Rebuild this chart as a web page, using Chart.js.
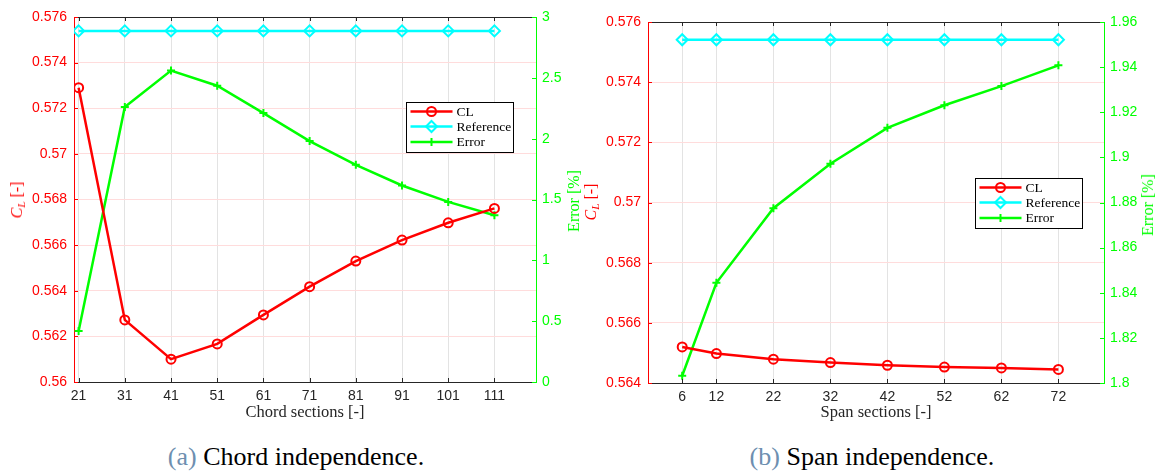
<!DOCTYPE html>
<html>
<head>
<meta charset="utf-8">
<script src="https://cdn.jsdelivr.net/npm/chart.js"></script>
<style>
  html, body { margin:0; padding:0; background:#fff; }
  body { width:1157px; height:473px; position:relative; overflow:hidden; }
  .chart { position:absolute; top:0; height:420px; }
  .lbl { position:absolute; font-family:'Liberation Serif', 'DejaVu Serif', serif; white-space:nowrap; transform:translate(-50%,-50%); line-height:1; }
  .rot { transform:translate(-50%,-50%) rotate(-90deg); }
  .cap { position:absolute; font-family:'Liberation Serif', 'DejaVu Serif', serif; font-size:26px; color:#000; white-space:nowrap; transform:translate(-50%,-50%); line-height:1; }
  .cap .n { color:#6e8fb0; }
  sub { font-size:70%; vertical-align:-0.25em; }
</style>
</head>
<body>
<div class="chart" style="left:0;width:578px;"><canvas id="c1"></canvas></div>
<div class="chart" style="left:578px;width:579px;"><canvas id="c2"></canvas></div>

<div class="lbl rot" style="left:18px;top:200px;font-size:16px;color:#ff0000;"><i>C</i><sub><i>L</i></sub> [-]</div>
<div class="lbl rot" style="left:574px;top:201px;font-size:16px;color:#00ff00;">Error [%]</div>
<div class="lbl" style="left:305px;top:412px;font-size:16.5px;color:#262626;">Chord sections [-]</div>

<div class="lbl rot" style="left:592px;top:202px;font-size:16px;color:#ff0000;"><i>C</i><sub><i>L</i></sub> [-]</div>
<div class="lbl rot" style="left:1148px;top:205px;font-size:16px;color:#00ff00;">Error [%]</div>
<div class="lbl" style="left:876px;top:412px;font-size:16.5px;color:#262626;">Span sections [-]</div>

<div class="cap" style="left:296px;top:457px;"><span class="n">(a)</span> Chord independence.</div>
<div class="cap" style="left:872px;top:457px;"><span class="n">(b)</span> Span independence.</div>

<script>
// ---- data ----
const chordSections = [21, 31, 41, 51, 61, 71, 81, 91, 101, 111];
const chordCL       = [0.5729, 0.56272, 0.5610, 0.56167, 0.56294, 0.56418, 0.5653, 0.56622, 0.56698, 0.56761];
const chordRef      = [0.57539, 0.57539, 0.57539, 0.57539, 0.57539, 0.57539, 0.57539, 0.57539, 0.57539, 0.57539];
const chordError    = [0.42, 2.26, 2.56, 2.435, 2.21, 1.98, 1.785, 1.615, 1.48, 1.37];

const spanSections = [6, 12, 22, 32, 42, 52, 62, 72];
const spanCL       = [0.5652, 0.56498, 0.56479, 0.56468, 0.56459, 0.56453, 0.5645, 0.56445];
const spanRef      = [0.57541, 0.57541, 0.57541, 0.57541, 0.57541, 0.57541, 0.57541, 0.57541];
const spanError    = [1.8032, 1.8444, 1.8775, 1.8972, 1.9131, 1.9231, 1.9316, 1.9408];

const seriesNames = ['CL', 'Reference', 'Error'];

// ---- helpers ----
const RED = '#ff0000', CYAN = '#00ffff', GREEN = '#00ff00', AX = '#262626';
const pts = (xs, ys) => xs.map((x, i) => ({x: x, y: ys[i]}));
const fmt = v => String(parseFloat(Number(v).toFixed(6)));
const SANS = "'Liberation Sans', Arial, sans-serif";

function drawMarker(ctx, style, x, y, color) {
  ctx.save();
  ctx.strokeStyle = color; ctx.lineWidth = 2;
  ctx.beginPath();
  if (style === 'circle') { ctx.arc(x, y, 4.5, 0, Math.PI * 2); }
  else if (style === 'rectRot') { const r = 5.5; ctx.moveTo(x, y - r); ctx.lineTo(x + r, y); ctx.lineTo(x, y + r); ctx.lineTo(x - r, y); ctx.closePath(); }
  else { ctx.moveTo(x, y - 4); ctx.lineTo(x, y + 4); ctx.moveTo(x - 4, y); ctx.lineTo(x + 4, y); }
  ctx.stroke();
  ctx.restore();
}

const framePlugin = {
  id: 'frame',
  afterDraw(chart, args, opts) {
    const {ctx, chartArea: a, scales} = chart;
    ctx.save();
    ctx.lineWidth = 1;
    ctx.strokeStyle = AX;
    ctx.beginPath(); ctx.moveTo(a.left, a.top + 0.5); ctx.lineTo(a.right, a.top + 0.5); ctx.stroke();
    scales.x.ticks.forEach(t => {
      const px = Math.round(scales.x.getPixelForValue(t.value)) + 0.5;
      ctx.beginPath();
      ctx.moveTo(px, a.bottom); ctx.lineTo(px, a.bottom - 4);
      ctx.moveTo(px, a.top); ctx.lineTo(px, a.top + 4);
      ctx.stroke();
    });
    ctx.strokeStyle = RED;
    scales.y.ticks.forEach(t => {
      const py = Math.round(scales.y.getPixelForValue(t.value)) + 0.5;
      ctx.beginPath(); ctx.moveTo(a.left, py); ctx.lineTo(a.left + 4, py); ctx.stroke();
    });
    ctx.strokeStyle = GREEN;
    scales.y2.ticks.forEach(t => {
      const py = Math.round(scales.y2.getPixelForValue(t.value)) + 0.5;
      ctx.beginPath(); ctx.moveTo(a.right, py); ctx.lineTo(a.right - 4, py); ctx.stroke();
    });
    // legend
    const bx = a.left + opts.dx, by = a.top + opts.dy, bw = 107, bh = 50;
    ctx.fillStyle = '#fff';
    ctx.fillRect(bx, by, bw, bh);
    ctx.strokeStyle = '#000'; ctx.lineWidth = 1;
    ctx.strokeRect(Math.round(bx) + 0.5, Math.round(by) + 0.5, bw, bh);
    const rows = [9.5, 24.5, 40];
    const styles = ['circle', 'rectRot', 'cross'];
    const colors = [RED, CYAN, GREEN];
    ctx.font = "13.5px 'Liberation Serif', 'DejaVu Serif', serif";
    ctx.textBaseline = 'middle';
    rows.forEach((ry, i) => {
      const y = by + ry, x0 = bx + 4.5, x1 = x0 + 42;
      ctx.strokeStyle = colors[i]; ctx.lineWidth = 2.5;
      ctx.beginPath(); ctx.moveTo(x0, y); ctx.lineTo(x1, y); ctx.stroke();
      drawMarker(ctx, styles[i], (x0 + x1) / 2, y, colors[i]);
      ctx.fillStyle = '#000';
      ctx.fillText(seriesNames[i], x1 + 4, y + 0.5);
    });
    ctx.restore();
  }
};

function makeChart(id, xs, cl, ref, err, cfg) {
  return new Chart(document.getElementById(id), {
    type: 'line',
    data: {
      datasets: [
        {label: seriesNames[0], data: pts(xs, cl), yAxisID: 'y', borderColor: RED, backgroundColor: 'rgba(0,0,0,0)', borderWidth: 2.5,
         pointStyle: 'circle', pointRadius: 4.5, pointBorderWidth: 2, pointBorderColor: RED, pointBackgroundColor: 'rgba(0,0,0,0)'},
        {label: seriesNames[1], data: pts(xs, ref), yAxisID: 'y', borderColor: CYAN, backgroundColor: 'rgba(0,0,0,0)', borderWidth: 2.5,
         pointStyle: 'rectRot', pointRadius: 5.5, pointBorderWidth: 2, pointBorderColor: CYAN, pointBackgroundColor: 'rgba(0,0,0,0)'},
        {label: seriesNames[2], data: pts(xs, err), yAxisID: 'y2', borderColor: GREEN, backgroundColor: 'rgba(0,0,0,0)', borderWidth: 2.5,
         pointStyle: 'cross', pointRadius: 4, pointBorderWidth: 2, pointBorderColor: GREEN, pointBackgroundColor: 'rgba(0,0,0,0)'}
      ]
    },
    options: {
      responsive: true,
      maintainAspectRatio: false,
      animation: false,
      layout: {padding: {top: cfg.top, left: 0, right: 0, bottom: 0}},
      plugins: {legend: {display: false}, tooltip: {enabled: false}, frame: {dx: cfg.legDx, dy: cfg.legDy}},
      elements: {line: {tension: 0}},
      scales: {
        x: {
          type: 'linear', min: cfg.xmin, max: cfg.xmax,
          afterBuildTicks: s => { s.ticks = xs.map(v => ({value: v})); },
          afterFit: s => { s.height = cfg.xh; },
          grid: {color: '#e3e3e3', drawTicks: false},
          border: {color: AX, width: 1},
          ticks: {color: AX, padding: 6, maxRotation: 0, autoSkip: false, callback: v => fmt(v), font: {family: SANS, size: 14}}
        },
        y: {
          position: 'left', min: cfg.ymin, max: cfg.ymax,
          afterFit: s => { s.width = cfg.yw; },
          grid: {color: '#ffdcdc', drawTicks: false},
          border: {color: RED, width: 1},
          ticks: {stepSize: cfg.ystep, color: RED, padding: 7, callback: v => fmt(v), font: {family: SANS, size: 14}}
        },
        y2: {
          position: 'right', min: cfg.y2min, max: cfg.y2max,
          afterFit: s => { s.width = cfg.y2w; },
          grid: {drawOnChartArea: false, drawTicks: false},
          border: {color: GREEN, width: 1},
          ticks: {stepSize: cfg.y2step, color: GREEN, padding: 6, callback: v => fmt(v), font: {family: SANS, size: 14}}
        }
      }
    },
    plugins: [framePlugin]
  });
}

makeChart('c1', chordSections, chordCL, chordRef, chordError,
  {top: 17, xh: 38, yw: 74, y2w: 42, xmin: 20, xmax: 120, ymin: 0.56, ymax: 0.576, ystep: 0.002,
   y2min: 0, y2max: 3, y2step: 0.5, legDx: 332, legDy: 85});
makeChart('c2', spanSections, spanCL, spanRef, spanError,
  {top: 22, xh: 37, yw: 70, y2w: 53, xmin: 0, xmax: 80, ymin: 0.564, ymax: 0.576, ystep: 0.002,
   y2min: 1.8, y2max: 1.96, y2step: 0.02, legDx: 327, legDy: 156});
</script>
</body>
</html>
